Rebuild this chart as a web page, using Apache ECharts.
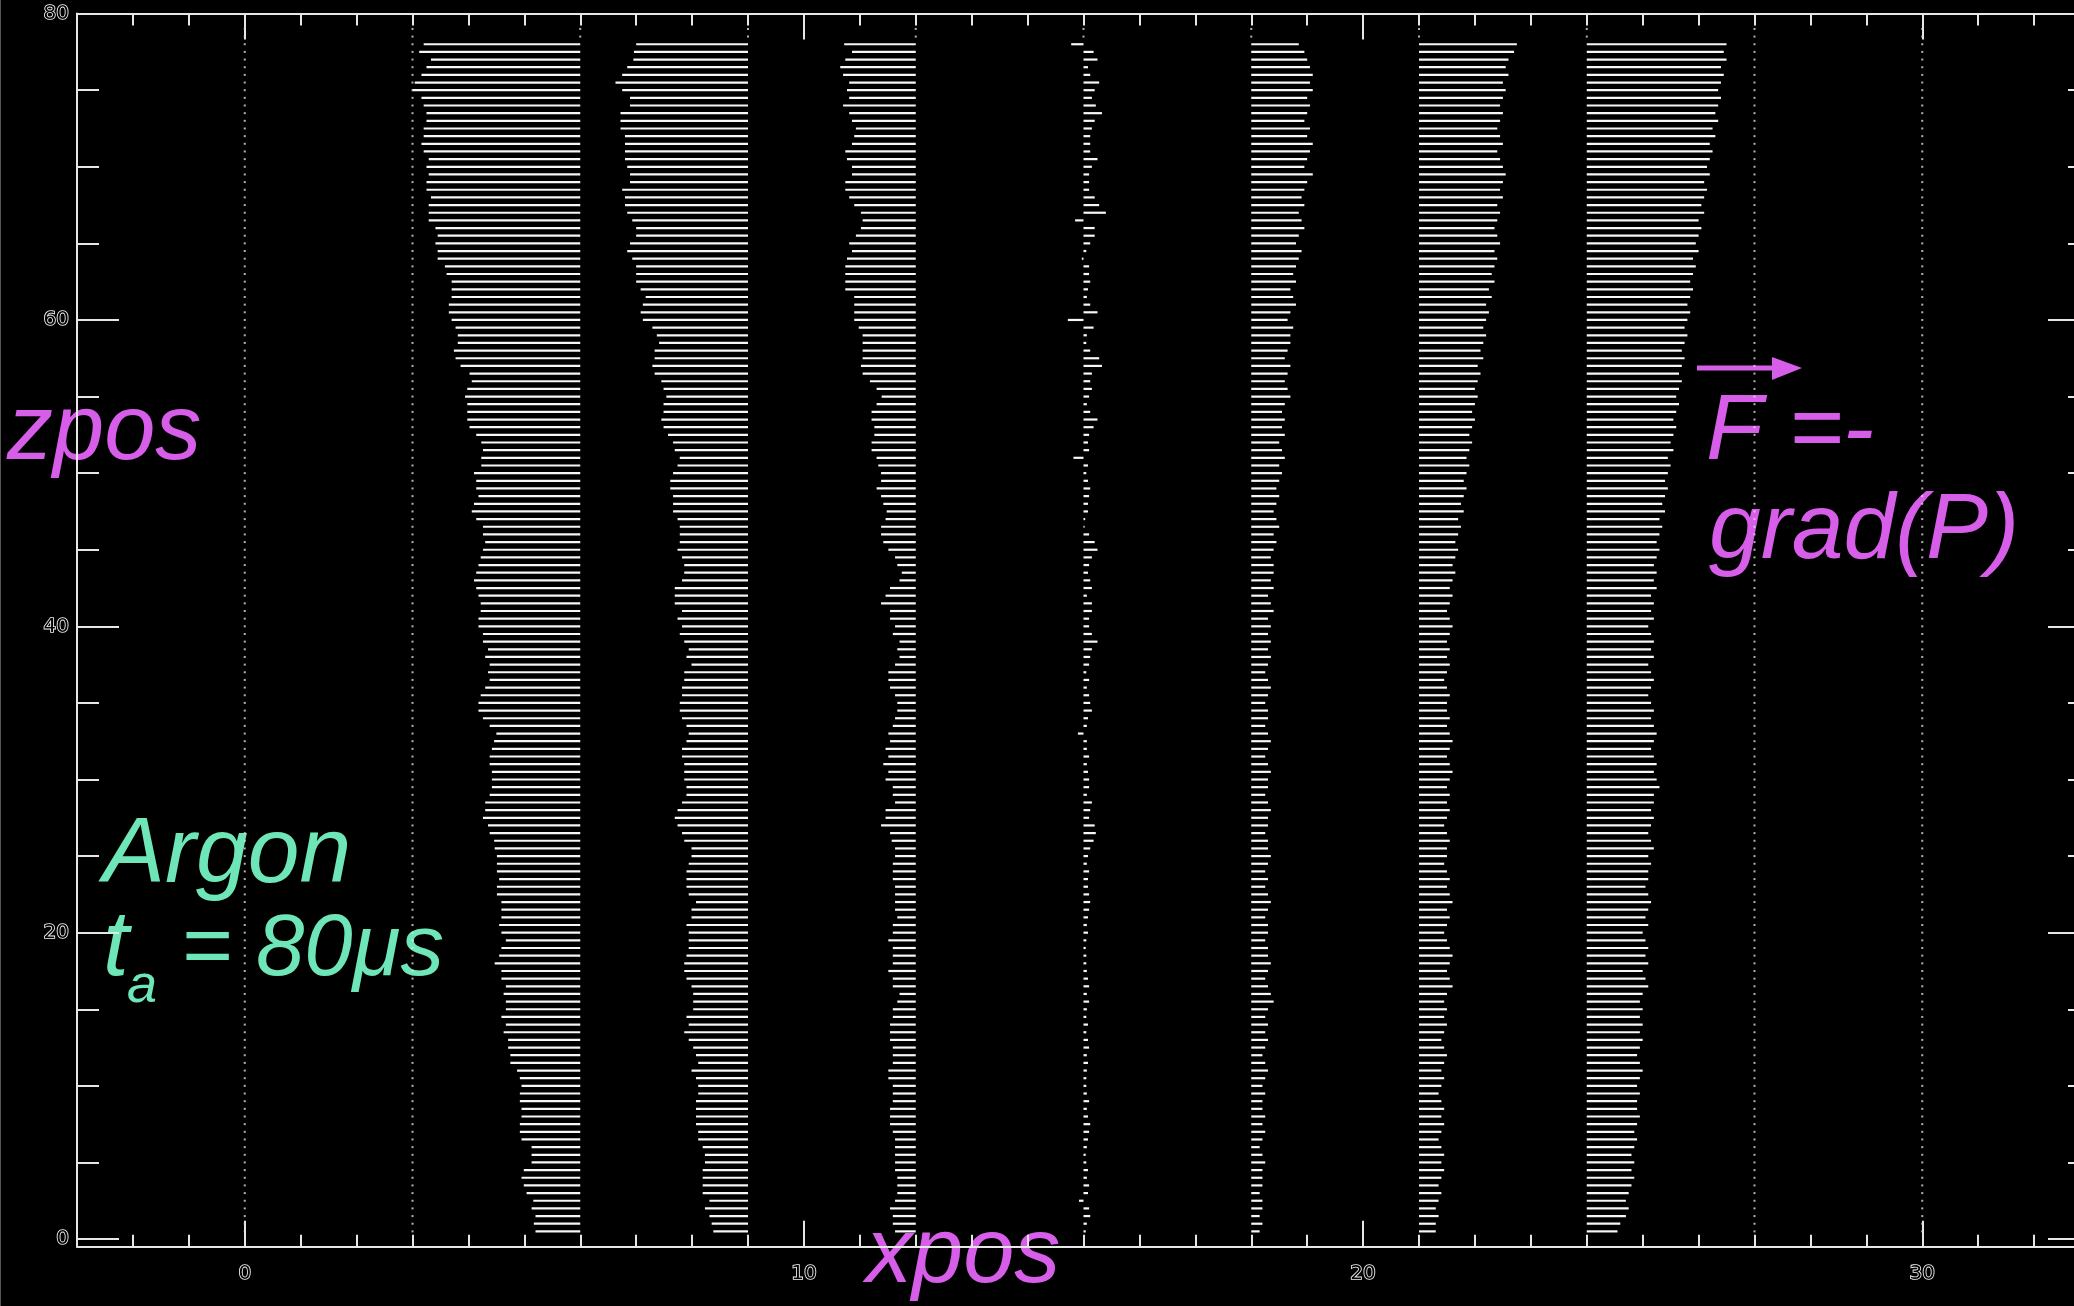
<!DOCTYPE html>
<html>
<head>
<meta charset="utf-8">
<script src="https://cdn.jsdelivr.net/npm/echarts@6/dist/echarts.min.js"></script>
<style>
html,body{margin:0;padding:0;background:#000;}
#c{width:2074px;height:1306px;}
</style>
</head>
<body>
<div id="c"></div>
<script>
// ---- sampling heights (zpos) of the vector rows, top to bottom ----
const zRows = [78,77.5,77,76.5,76,75.5,75,74.5,74,73.5,73,72.5,72,71.5,71,70.5,70,69.5,69,68.5,68,67.5,67,66.5,66,65.5,65,64.5,64,63.5,63,62.5,62,61.5,61,60.5,60,59.5,59,58.5,58,57.5,57,56.5,56,55.5,55,54.5,54,53.5,53,52.5,52,51.5,51,50.5,50,49.5,49,48.5,48,47.5,47,46.5,46,45.5,45,44.5,44,43.5,43,42.5,42,41.5,41,40.5,40,39.5,39,38.5,38,37.5,37,36.5,36,35.5,35,34.5,34,33.5,33,32.5,32,31.5,31,30.5,30,29.5,29,28.5,28,27.5,27,26.5,26,25.5,25,24.5,24,23.5,23,22.5,22,21.5,21,20.5,20,19.5,19,18.5,18,17.5,17,16.5,16,15.5,15,14.5,14,13.5,13,12.5,12,11.5,11,10.5,10,9.5,9,8.5,8,7.5,7,6.5,6,5.5,5,4.5,4,3.5,3,2.5,2,1.5,1,0.5];
const zTopDots = [79,78.5];

// ---- xpos of the vector bases ----
const columnBases = [6,9,12,15,18,21,24];
const zeroForceColumns = [0,3,27,30];

// ---- xpos of the vector tips, per column, same order as zRows ----
const col1Tips = [3.20,3.12,3.33,3.25,3.16,3.04,3.00,3.16,3.20,3.25,3.25,3.20,3.20,3.16,3.20,3.29,3.25,3.29,3.25,3.25,3.33,3.29,3.29,3.29,3.41,3.45,3.41,3.45,3.45,3.58,3.61,3.70,3.70,3.70,3.65,3.65,3.70,3.77,3.81,3.81,3.74,3.77,3.86,4.02,4.06,3.98,3.94,3.98,3.98,3.98,4.02,4.14,
4.23,4.26,4.23,4.23,4.10,4.14,4.14,4.18,4.10,4.06,4.14,4.26,4.26,4.30,4.26,4.22,4.18,4.14,4.10,4.14,4.18,4.22,4.22,4.18,4.18,4.26,4.26,4.35,4.30,4.38,4.35,4.38,4.30,4.22,4.18,4.18,4.26,4.38,4.50,4.46,4.42,4.38,4.38,4.42,4.42,4.42,4.38,4.30,4.30,4.26,4.35,4.38,4.46,
4.47,4.51,4.51,4.51,4.55,4.51,4.51,4.59,4.59,4.59,4.55,4.59,4.67,4.59,4.55,4.47,4.59,4.59,4.67,4.63,4.67,4.67,4.59,4.67,4.63,4.71,4.71,4.75,4.75,4.87,4.92,4.95,4.92,4.92,4.95,4.95,4.92,4.92,4.95,5.13,5.13,5.13,4.99,4.95,4.99,5.04,5.16,5.13,5.20,5.17,5.20];
const col2Tips = [7.00,6.96,6.95,6.84,6.75,6.63,6.75,6.89,6.89,6.72,6.72,6.72,6.80,6.80,6.80,6.80,6.84,6.89,6.89,6.75,6.80,6.80,6.84,6.93,7.00,7.00,6.89,6.84,6.93,7.00,7.00,7.00,7.08,7.17,7.12,7.08,7.12,7.29,7.37,7.41,7.33,7.33,7.29,7.33,7.45,7.49,7.54,7.49,7.49,7.45,7.49,7.57,
7.66,7.69,7.78,7.74,7.66,7.61,7.61,7.66,7.66,7.66,7.74,7.78,7.78,7.78,7.74,7.82,7.86,7.86,7.82,7.69,7.69,7.69,7.82,7.74,7.82,7.78,7.86,7.94,7.90,7.99,7.86,7.86,7.82,7.82,7.78,7.78,7.82,7.90,7.94,7.90,7.82,7.82,7.86,7.86,7.86,7.90,7.90,7.82,7.74,7.69,7.74,7.82,7.86,
7.99,7.99,7.94,7.90,7.90,7.90,7.94,8.07,7.99,7.99,7.90,7.94,7.94,7.94,7.90,7.86,7.86,7.90,7.99,8.02,8.02,8.02,7.90,7.94,7.86,7.94,8.02,8.07,8.11,7.99,8.07,8.11,8.11,8.07,8.07,8.07,8.07,8.11,8.11,8.19,8.23,8.23,8.19,8.19,8.19,8.19,8.31,8.23,8.31,8.35,8.38];
const col3Tips = [10.72,10.86,10.74,10.65,10.70,10.81,10.77,10.81,10.70,10.81,10.86,10.93,10.90,10.86,10.74,10.77,10.86,10.86,10.74,10.74,10.81,10.90,11.02,11.05,11.02,10.93,10.81,10.86,10.77,10.74,10.74,10.74,10.74,10.90,10.90,10.90,10.90,10.98,11.05,11.05,11.05,11.05,11.02,11.05,11.18,11.30,11.39,11.30,11.21,11.21,11.26,11.26,
11.21,11.21,11.30,11.33,11.38,11.38,11.30,11.38,11.42,11.48,11.46,11.38,11.38,11.42,11.51,11.63,11.67,11.75,11.71,11.54,11.46,11.38,11.54,11.54,11.63,11.59,11.71,11.67,11.71,11.63,11.51,11.51,11.54,11.63,11.67,11.67,11.63,11.59,11.51,11.54,11.46,11.51,11.42,11.51,11.46,11.59,11.59,11.63,11.46,11.46,11.38,11.54,11.57,
11.63,11.63,11.59,11.59,11.59,11.63,11.63,11.63,11.63,11.67,11.59,11.59,11.51,11.59,11.59,11.59,11.51,11.59,11.59,11.71,11.67,11.59,11.59,11.54,11.54,11.54,11.59,11.59,11.59,11.51,11.51,11.59,11.59,11.59,11.54,11.54,11.54,11.59,11.63,11.63,11.63,11.63,11.63,11.67,11.67,11.67,11.63,11.54,11.59,11.59,11.63];
const col4Tips = [14.78,15.18,15.25,15.08,15.12,15.28,15.20,15.15,15.22,15.33,15.20,15.15,15.12,15.12,15.12,15.25,15.15,15.10,15.10,15.10,15.20,15.28,15.40,14.85,15.20,15.20,15.12,15.05,14.97,15.10,15.10,15.12,15.08,15.06,15.12,15.25,14.72,15.18,15.06,15.05,15.12,15.28,15.33,15.15,15.12,15.15,15.10,15.06,15.12,15.25,15.18,15.10,
15.08,15.10,14.82,15.08,15.05,15.08,15.12,15.10,15.08,15.08,15.03,15.02,15.10,15.20,15.25,15.15,15.10,15.08,15.12,15.15,15.06,15.15,15.15,15.10,15.10,15.15,15.25,15.15,15.12,15.10,15.05,15.10,15.06,15.10,15.12,15.15,15.08,15.06,14.90,15.06,15.06,15.10,15.06,15.08,15.10,15.10,15.06,15.15,15.12,15.10,15.20,15.22,15.18,
15.12,15.08,15.06,15.10,15.08,15.08,15.10,15.12,15.10,15.08,15.06,15.08,15.05,15.04,15.05,15.05,15.06,15.08,15.10,15.06,15.10,15.06,15.05,15.08,15.05,15.08,15.10,15.06,15.08,15.06,15.05,15.05,15.06,15.10,15.06,15.08,15.12,15.10,15.08,15.06,15.04,15.05,15.08,15.06,15.10,15.08,14.92,15.10,15.12,15.06,15.04];
const col5Tips = [18.85,18.95,19.0,19.05,19.1,19.05,19.1,19.0,19.05,
19.0,18.95,19.05,19.0,19.1,19.05,19.0,18.95,19.1,19.0,
18.95,18.9,18.95,18.85,18.9,18.95,18.85,18.8,18.9,18.85,
18.8,18.75,18.8,18.7,18.75,18.8,18.7,18.65,18.75,18.7,
18.7,18.65,18.6,18.7,18.65,18.6,18.65,18.7,18.6,18.55,
18.6,18.55,18.6,18.5,18.55,18.6,18.5,18.55,18.5,18.45,
18.5,18.45,18.4,18.45,18.5,18.4,18.45,18.4,18.35,18.4,
18.4,18.35,18.4,18.3,18.35,18.4,18.3,18.35,18.3,18.35,
18.3,18.35,18.3,18.25,18.3,18.35,18.3,18.25,18.3,18.3,
18.25,18.3,18.35,18.3,18.25,18.3,18.35,18.3,18.3,18.25,
18.3,18.35,18.3,18.3,18.25,18.3,18.3,18.35,18.3,18.25,
18.3,18.25,18.3,18.35,18.3,18.25,18.3,18.3,18.25,18.3,
18.3,18.35,18.3,18.25,18.3,18.35,18.4,18.3,18.25,18.3,
18.25,18.3,18.25,18.2,18.25,18.3,18.25,18.2,18.25,18.2,
18.2,18.25,18.2,18.25,18.2,18.15,18.2,18.25,18.2,18.2,
18.2,18.15,18.2,18.2,18.15,18.2,18.15];
const col6Tips = [22.75,22.7,22.6,22.55,22.6,22.5,22.55,22.5,22.45,
22.5,22.45,22.4,22.45,22.5,22.4,22.45,22.5,22.55,22.5,
22.45,22.5,22.4,22.45,22.4,22.35,22.4,22.45,22.35,22.4,
22.35,22.3,22.35,22.25,22.3,22.2,22.25,22.2,22.15,22.2,
22.15,22.1,22.15,22.05,22.1,22.05,22.0,22.05,22.0,21.95,
22.0,21.95,21.9,21.95,21.9,21.85,21.9,21.85,21.8,21.85,
21.8,21.75,21.8,21.7,21.75,21.7,21.65,21.7,21.65,21.6,
21.65,21.6,21.55,21.6,21.55,21.5,21.55,21.6,21.55,21.5,
21.55,21.5,21.55,21.5,21.45,21.5,21.55,21.5,21.5,21.55,
21.5,21.55,21.6,21.55,21.5,21.55,21.6,21.55,21.5,21.55,
21.5,21.55,21.5,21.45,21.5,21.55,21.5,21.5,21.45,21.5,
21.55,21.5,21.55,21.6,21.5,21.55,21.5,21.45,21.5,21.55,
21.6,21.55,21.5,21.55,21.6,21.5,21.45,21.5,21.45,21.5,
21.45,21.4,21.45,21.5,21.45,21.4,21.45,21.4,21.35,21.4,
21.45,21.4,21.45,21.4,21.35,21.4,21.45,21.4,21.45,21.4,
21.35,21.4,21.35,21.3,21.35,21.3,21.3];
const col7Tips = [26.5,26.45,26.5,26.4,26.45,26.4,26.35,26.4,26.35,
26.3,26.35,26.25,26.3,26.2,26.25,26.2,26.15,26.2,26.1,
26.15,26.1,26.05,26.1,26.0,26.05,26.0,25.95,26.0,25.9,
25.95,25.9,25.85,25.9,25.85,25.8,25.85,25.8,25.75,25.8,
25.75,25.7,25.75,25.7,25.65,25.7,25.65,25.6,25.65,25.6,
25.55,25.6,25.55,25.5,25.55,25.45,25.5,25.45,25.4,25.45,
25.4,25.35,25.4,25.3,25.35,25.3,25.25,25.3,25.25,25.2,
25.25,25.2,25.25,25.15,25.2,25.15,25.2,25.1,25.15,25.2,
25.15,25.2,25.1,25.15,25.2,25.15,25.1,25.15,25.2,25.15,
25.2,25.25,25.2,25.15,25.2,25.25,25.2,25.25,25.3,25.2,
25.2,25.15,25.2,25.15,25.1,25.15,25.2,25.1,25.15,25.1,
25.1,25.05,25.1,25.15,25.1,25.05,25.1,25.0,25.05,25.1,
25.05,25.1,25.0,25.05,25.1,25.0,24.95,25.0,24.95,25.0,
24.95,25.0,24.95,24.9,24.95,25.0,24.95,24.9,24.95,24.9,
24.9,24.95,24.9,24.85,24.9,24.85,24.8,24.85,24.8,24.85,
24.8,24.75,24.7,24.75,24.7,24.6,24.55];
const columnTips = [col1Tips,col2Tips,col3Tips,col4Tips,col5Tips,col6Tips,col7Tips];

// ---- axis ticks / labels ----
const xMinorTicks = [-3,-2,-1,0,1,2,3,4,5,6,7,8,9,10,11,12,13,14,15,16,17,18,19,20,21,22,23,24,25,26,27,28,29,30,31,32,33];
const xMajorTicks = [0,10,20,30];
const xTickLabels = [0,10,20,30];
const yMinorTicks = [0,5,10,15,20,25,30,35,40,45,50,55,60,65,70,75,80];
const yMajorTicks = [0,20,40,60,80];
const yTickLabels = [0,20,40,60,80];

// ---- build data ----
const vectorData = [];
columnBases.forEach((b, ci) => {
  const tips = columnTips[ci];
  for (let i = 0; i < tips.length; i++) vectorData.push([b, zRows[i], tips[i]]);
});
const dotData = [];
zeroForceColumns.forEach(x => {
  zRows.concat(zTopDots).forEach(z => dotData.push([x, z]));
});
columnBases.forEach(x => zTopDots.forEach(z => dotData.push([x, z])));

const AX = '#e6e6e6';
const labelStyle = {color:'#000', textBorderColor:'#f2f2f2', textBorderWidth:1.7, fontFamily:'DejaVu Sans', fontSize:20};
function xAx(pos, ticks, len, withLine, labels){
  return {type:'value', gridIndex:0, position:pos, min:-3, max:33,
    axisLine:{show:withLine, onZero:false, lineStyle:{color:AX, width:2}},
    axisTick:{show:true, inside:true, length:len, customValues:ticks, lineStyle:{color:AX, width:2}},
    axisLabel: labels ? Object.assign({show:true, customValues:labels, margin:17}, labelStyle) : {show:false},
    splitLine:{show:false}};
}
function yAx(pos, ticks, len, withLine, labels){
  return {type:'value', gridIndex:0, position:pos, min:-0.5, max:80,
    axisLine:{show:withLine, onZero:false, lineStyle:{color:AX, width:2}},
    axisTick:{show:true, inside:true, length:len, customValues:ticks, lineStyle:{color:AX, width:2}},
    axisLabel: labels ? Object.assign({show:true, customValues:labels, margin:8}, labelStyle) : {show:false},
    splitLine:{show:false}};
}

const MAG = '#d65ee9';
const AQUA = '#6fe6b8';
const FONT = 'italic 92px "Liberation Sans", Arial, sans-serif';
const FONT2 = 'italic 93px "Liberation Sans", Arial, sans-serif';

const chart = echarts.init(document.getElementById('c'), null, {renderer:'canvas'});
chart.setOption({
  backgroundColor:'#000',
  animation:false,
  grid:{left:77, right:-16, top:13.6, bottom:59.3, outerBoundsMode:'none', containLabel:false},
  xAxis:[xAx('bottom', xMinorTicks, 12, true, xTickLabels), xAx('bottom', xMajorTicks, 26, false, null),
         xAx('top', xMinorTicks, 12, true, null), xAx('top', xMajorTicks, 26, false, null)],
  yAxis:[yAx('left', yMinorTicks, 22, true, yTickLabels), yAx('left', yMajorTicks, 42, false, null),
         yAx('right', yMinorTicks, 22, true, null), yAx('right', yMajorTicks, 42, false, null)],
  series:[
    {type:'scatter', xAxisIndex:0, yAxisIndex:0, data:dotData, symbol:'rect', symbolSize:2,
     itemStyle:{color:'#e0e0e0'}, silent:true},
    {type:'custom', xAxisIndex:0, yAxisIndex:0, data:vectorData, silent:true,
     encode:{x:[0,2], y:1},
     renderItem:function(params, api){
       const p0 = api.coord([api.value(0), api.value(1)]);
       const p1 = api.coord([api.value(2), api.value(1)]);
       return {type:'line', shape:{x1:p0[0], y1:p0[1], x2:p1[0], y2:p1[1]},
               style:{stroke:'#f6f6f6', lineWidth:2.2}};
     }}
  ],
  graphic:[
    {type:'rect', shape:{x:0, y:0, width:1, height:1306}, style:{fill:'#555'}, silent:true},
    {type:'text', x:7, y:433, style:{text:'zpos', font:FONT, fill:MAG, verticalAlign:'middle'}},
    {type:'text', x:866, y:1256, style:{text:'xpos', font:FONT, fill:MAG, verticalAlign:'middle'}},
    {type:'text', x:103, y:856, style:{text:'Argon', font:FONT2, fill:AQUA, verticalAlign:'middle'}},
    {type:'text', x:103, y:949, style:{text:'t', font:FONT2, fill:AQUA, verticalAlign:'middle'}},
    {type:'text', x:127, y:987, style:{text:'a', font:'italic 54px "Liberation Sans", Arial, sans-serif', fill:AQUA, verticalAlign:'middle'}},
    {type:'text', x:181, y:951, style:{text:'= 80\u03bcs', font:'italic 87px "Liberation Sans", Arial, sans-serif', fill:AQUA, verticalAlign:'middle'}},
    {type:'line', shape:{x1:1697, y1:368, x2:1780, y2:368}, style:{stroke:MAG, lineWidth:5}},
    {type:'polygon', shape:{points:[[1772,357],[1802,368],[1772,380]]}, style:{fill:MAG}},
    {type:'text', x:1706, y:433, style:{text:'F =-', font:FONT2, fill:MAG, verticalAlign:'middle'}},
    {type:'text', x:1709, y:532, style:{text:'grad(P)', font:FONT2, fill:MAG, verticalAlign:'middle'}}
  ]
});
</script>
</body>
</html>
